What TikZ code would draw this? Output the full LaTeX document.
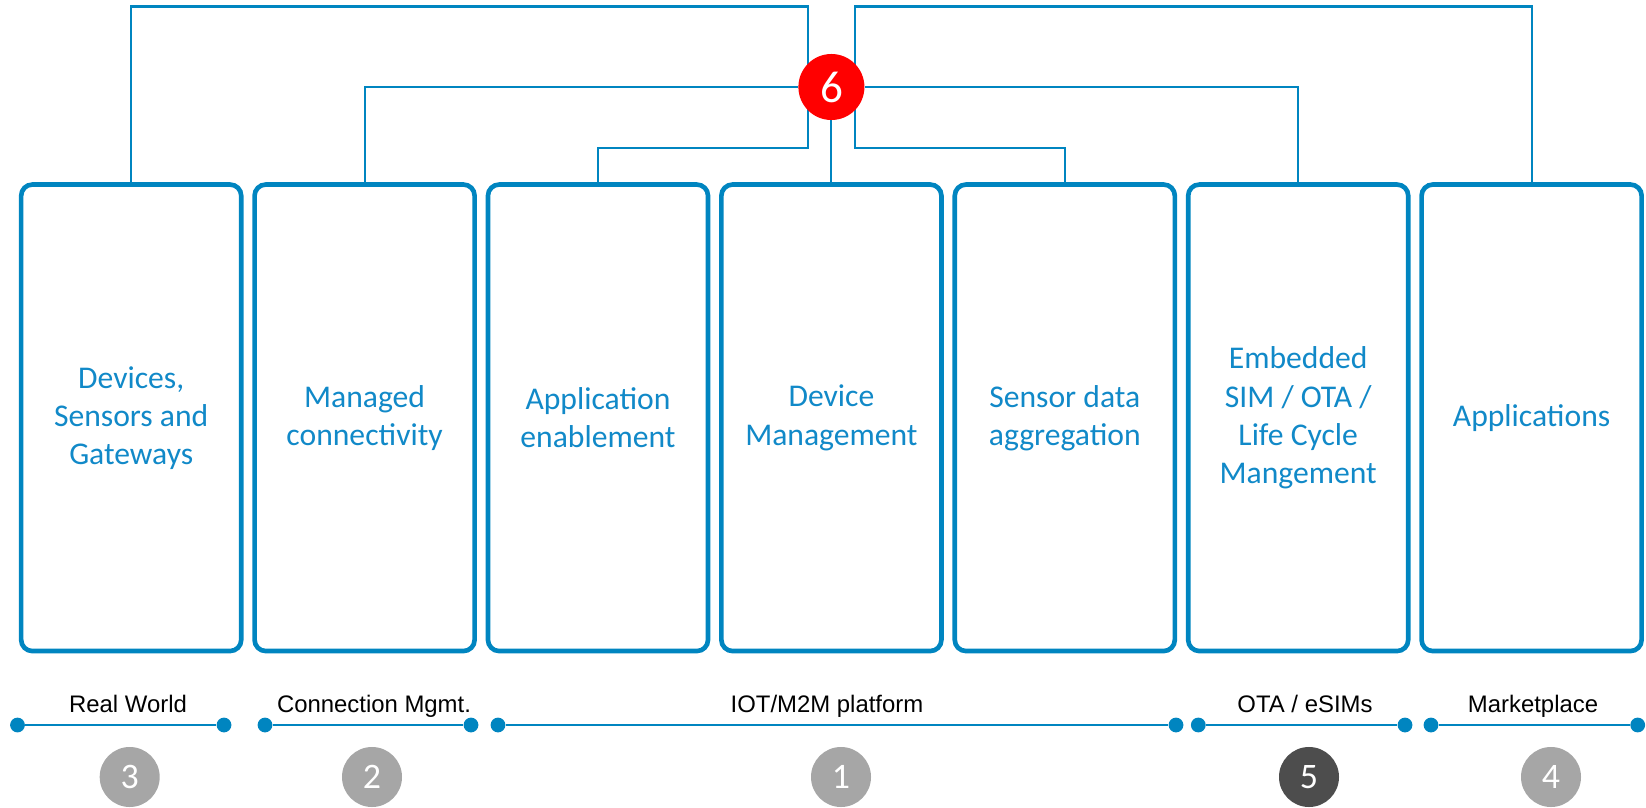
\documentclass[tikz,border=0pt]{standalone}
\usepackage{fontspec}
\setmainfont{Carlito}
\newfontfamily\labelfont{Liberation Sans}
\usetikzlibrary{backgrounds}
\definecolor{iotblue}{RGB}{0,133,192}
\definecolor{iottext}{RGB}{17,137,200}
\definecolor{numgray}{RGB}{166,166,166}
\definecolor{numdark}{RGB}{77,77,77}
\pgfmathsetmacro{\boxStart}{131.2}
\pgfmathsetmacro{\boxPitch}{233.4}
\pgfmathsetmacro{\boxMid}{417.8}
\tikzset{
	stage/.style= {
		shape=rectangle, rounded corners=0.28cm,
		draw=iotblue, line width=3.3pt,
		minimum width=5.5cm, minimum height=11.66cm,
		align=center, text=iottext,
		inner sep=0,
		font=\fontsize{22.5}{27.1}\selectfont
	},
	link/.style= {draw=iotblue, line width=1.5pt},
	hub/.style= {
		shape=circle, fill=red, text=white,
		minimum size=1.65cm, inner sep=0,
		font=\fontsize{32}{32}\selectfont
	},
	dot/.style= {shape=circle, fill=iotblue, minimum size=0.37cm, inner sep=0},
	spanline/.style= {draw=iotblue, line width=1.9pt},
	spanlabel/.style= {anchor=base, font=\labelfont\fontsize{17}{17}\selectfont},
	badge/.style= {
		shape=circle, fill=numgray, text=white,
		minimum size=1.5cm, inner sep=0,
		font=\fontsize{25.5}{25.5}\selectfont
	}
}

\begin{document}
\begin{tikzpicture}[x=0.025cm, y=-0.025cm]
\useasboundingbox (0,0) rectangle (1646,808);

% stage boxes
\foreach \n/\txt in {1/{Devices,\\Sensors and\\Gateways}, 2/{Managed\\connectivity},
	3/{Application\\enablement}, 4/{Device\\Management}, 5/{Sensor data\\aggregation},
	6/{Embedded\\SIM / OTA /\\Life Cycle\\Mangement}, 7/{Applications}}{%
	\node[stage] (b\n) at ( {\boxStart+(\n-1)*\boxPitch}, \boxMid ) {\txt};
}

% hub and its links
\node[hub] (six) at (831.4,87) {6};
\coordinate (ltop) at (808.3,6.5);
\coordinate (lturn) at (808.3,147.7);
\coordinate (rtop) at (854.6,6.5);
\coordinate (rturn) at (854.6,147.7);
\begin{pgfonlayer}{background}
	\draw[link] (b1.north) |- (ltop) -- (lturn) -| (b3.north);
	\draw[link] (b7.north) |- (rtop) -- (rturn) -| (b5.north);
	\draw[link] (b2.north) |- (six);
	\draw[link] (b6.north) |- (six);
	\draw[link] (six) -- (b4.north);
\end{pgfonlayer}

% spans below
\foreach \n/\xa/\xb/\lx/\txt in {1/17.5/224/128/{Real World}, 2/265/471/374/{Connection Mgmt.},
	3/498/1176/827/{IOT/M2M platform}, 4/1198.3/1405/1305/{OTA / eSIMs},
	5/1431/1637.7/1533/{Marketplace}}{%
	\node[dot] (sa\n) at (\xa,725) {};
	\node[dot] (sb\n) at (\xb,725) {};
	\draw[spanline] (sa\n) -- (sb\n);
	\node[spanlabel] (l\n) at (\lx,712.7) {\txt};
}

% numbers
\foreach \n/\x/\c in {3/129.7/numgray, 2/372/numgray, 1/841/numgray, 5/1309/numdark, 4/1551/numgray}{%
	\node[badge, fill=\c] (n\n) at (\x,777) {\n};
}
\end{tikzpicture}
\end{document}
